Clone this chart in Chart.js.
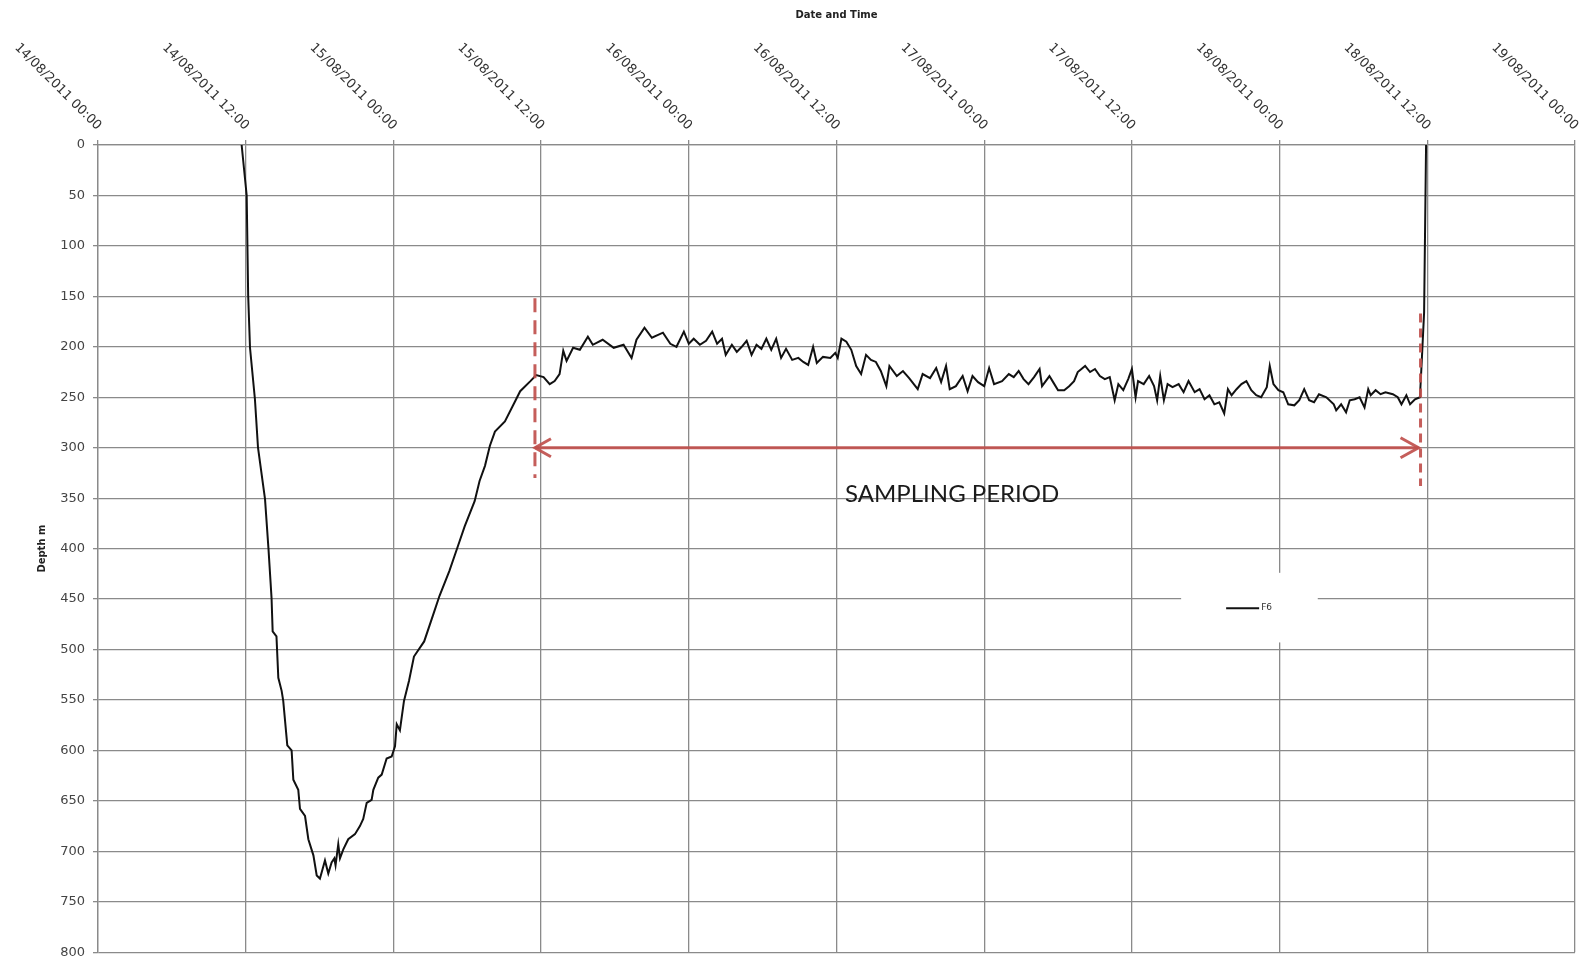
<!DOCTYPE html>
<html>
<head>
<meta charset="utf-8">
<title>Depth F6</title>
<script src="https://cdn.jsdelivr.net/npm/chart.js@4"></script>
<style>
  html, body { margin: 0; padding: 0; background: #fff; }
  #wrap { width: 1584px; height: 968px; position: relative; }
</style>
</head>
<body>
<div id="wrap"><canvas id="depth-chart"></canvas></div>
<script>
// hours since 14/08/2011 00:00
const xTickHours = [0, 12, 24, 36, 48, 60, 72, 84, 96, 108, 120];
const xTickLabels = [
    "14/08/2011 00:00", "14/08/2011 12:00", "15/08/2011 00:00", "15/08/2011 12:00",
    "16/08/2011 00:00", "16/08/2011 12:00", "17/08/2011 00:00", "17/08/2011 12:00",
    "18/08/2011 00:00", "18/08/2011 12:00", "19/08/2011 00:00"
];
const seriesName = "F6";

const hours = [
    11.67, 12.08, 12.2, 12.35, 12.75, 13.0, 13.57, 13.85, 14.1, 14.19, 14.5, 14.65, 14.92, 15.05,
    15.38, 15.73, 15.87, 16.27, 16.41, 16.82, 17.09, 17.5, 17.77, 18.03, 18.17, 18.44, 18.71, 18.98,
    19.2, 19.3, 19.52, 19.66, 19.93, 20.33, 20.88, 21.28, 21.55, 21.83, 22.23, 22.37, 22.77, 23.05,
    23.45, 23.86, 24.13, 24.27, 24.53, 24.86, 25.27, 25.67, 26.5, 27.33, 27.74, 28.55, 29.37, 29.79,
    30.6, 31.0, 31.44, 31.84, 32.25, 33.06, 33.89, 34.3, 35.13, 35.6, 36.2, 36.7, 37.1, 37.5,
    37.8, 38.07, 38.6, 39.15, 39.8, 40.2, 41.0, 41.9, 42.7, 43.35, 43.75, 44.4, 45.0, 45.9,
    46.5, 47.0, 47.6, 48.0, 48.4, 48.9, 49.4, 49.9, 50.3, 50.7, 51.0, 51.5, 51.9, 52.3,
    52.7, 53.1, 53.5, 53.9, 54.3, 54.7, 55.1, 55.5, 55.9, 56.4, 56.9, 57.3, 57.7, 58.1,
    58.4, 58.9, 59.5, 59.9, 60.1, 60.4, 60.8, 61.2, 61.6, 62.0, 62.4, 62.8, 63.2, 63.6,
    64.05, 64.3, 64.9, 65.4, 65.9, 66.6, 67.0, 67.6, 68.1, 68.5, 68.9, 69.2, 69.7, 70.25,
    70.65, 71.05, 71.5, 72.0, 72.4, 72.8, 73.45, 74.0, 74.4, 74.8, 75.2, 75.6, 76.05, 76.5,
    76.7, 77.3, 77.6, 78.0, 78.5, 78.9, 79.3, 79.6, 80.2, 80.6, 81.0, 81.4, 81.8, 82.2,
    82.6, 82.9, 83.3, 83.7, 84.0, 84.3, 84.5, 84.96, 85.4, 85.8, 86.05, 86.3, 86.6, 86.9,
    87.3, 87.8, 88.2, 88.6, 89.1, 89.5, 89.9, 90.3, 90.7, 91.1, 91.5, 91.8, 92.1, 92.5,
    92.9, 93.3, 93.7, 94.1, 94.5, 94.96, 95.2, 95.5, 95.9, 96.3, 96.7, 97.2, 97.6, 98.0,
    98.4, 98.8, 99.2, 99.8, 100.4, 100.6, 101.0, 101.4, 101.7, 102.1, 102.5, 102.9, 103.2, 103.4,
    103.8, 104.2, 104.6, 105.2, 105.6, 105.9, 106.3, 106.6, 107.0, 107.4, 107.55, 107.74, 107.9
];
const depthM = [
    0, 50, 149, 201, 252, 300, 351, 400, 449, 482, 487, 528, 541, 551,
    595, 600, 629, 639, 658, 665, 688, 704, 724, 727, 721, 709, 722, 711,
    707, 714, 693, 707, 698, 688, 683, 675, 668, 652, 649, 639, 627, 624,
    608, 606, 596, 574, 580, 551, 531, 507, 492, 462, 447, 422, 393, 378,
    353, 333, 318, 298, 284, 274, 254, 244, 234, 228, 230, 237, 234, 227,
    204, 214, 201, 203, 190, 198, 193, 201, 198, 211, 193, 181, 191, 186,
    197, 200, 185, 197, 192, 198, 194, 185, 197, 192, 208, 198, 205, 200,
    194, 208, 198, 202, 192, 203, 192, 211, 202, 213, 211, 215, 218, 200,
    216, 210, 211, 206, 211, 192, 195, 203, 219, 227, 208, 213, 215, 224,
    239, 219, 229, 224, 231, 242, 227, 231, 221, 235, 219, 242, 239, 229,
    244, 229, 235, 239, 221, 237, 234, 227, 230, 224, 232, 237, 230, 222,
    239, 229, 235, 243, 243, 239, 234, 225, 219, 225, 222, 229, 232, 230,
    253, 237, 243, 232, 222, 250, 234, 237, 229, 239, 253, 229, 253, 237,
    240, 237, 245, 234, 245, 242, 252, 248, 257, 255, 266, 242, 248, 242,
    237, 234, 243, 248, 250, 240, 219, 237, 243, 245, 257, 258, 253, 242,
    253, 255, 247, 250, 257, 263, 257, 265, 253, 252, 250, 260, 242, 248,
    243, 247, 245, 247, 250, 257, 248, 257, 252, 250, 214, 166, 0
];

// sampling period markers
const samplingStartHour = 35.5;
const samplingEndHour = 107.45;
const samplingDepth = 300;
const startMarkerDepths = [152, 330];
const endMarkerDepths = [167, 338];
const samplingLabel = "SAMPLING PERIOD";

const red = "rgba(192, 80, 77, 0.92)";

const topTickLabels = {
    id: "topTickLabels",
    afterDraw(chart) {
        const ctx = chart.ctx;
        const xs = chart.scales.x;
        ctx.save();
        ctx.font = '13px "DejaVu Sans"';
        ctx.fillStyle = "#333";
        ctx.textAlign = "right";
        ctx.textBaseline = "middle";
        xTickHours.forEach((h, i) => {
            const px = xs.getPixelForValue(h);
            ctx.save();
            ctx.translate(px + 1, xs.bottom - 17);
            ctx.rotate(Math.PI / 4);
            ctx.fillText(xTickLabels[i], 0, 0);
            ctx.restore();
        });
        ctx.restore();
    }
};

const samplingMarks = {
    id: "samplingMarks",
    afterDatasetsDraw(chart) {
        const ctx = chart.ctx;
        const xs = chart.scales.x, ys = chart.scales.y;
        const x1 = xs.getPixelForValue(samplingStartHour);
        const x2 = xs.getPixelForValue(samplingEndHour);
        const ya = ys.getPixelForValue(samplingDepth);
        ctx.save();
        ctx.strokeStyle = red;
        ctx.lineWidth = 3;
        // dashed verticals
        ctx.setLineDash([14, 8]);
        ctx.beginPath();
        ctx.moveTo(x1, ys.getPixelForValue(startMarkerDepths[0]));
        ctx.lineTo(x1, ys.getPixelForValue(startMarkerDepths[1]));
        ctx.stroke();
        ctx.setLineDash([9, 6]);
        ctx.beginPath();
        ctx.moveTo(x2, ys.getPixelForValue(endMarkerDepths[0]));
        ctx.lineTo(x2, ys.getPixelForValue(endMarkerDepths[1]));
        ctx.stroke();
        // double arrow
        ctx.setLineDash([]);
        ctx.beginPath();
        ctx.moveTo(x1, ya);
        ctx.lineTo(x2 - 2, ya);
        ctx.stroke();
        ctx.beginPath();
        ctx.moveTo(x1 + 16, ya - 9);
        ctx.lineTo(x1, ya);
        ctx.lineTo(x1 + 16, ya + 9);
        ctx.moveTo(x2 - 20, ya - 10);
        ctx.lineTo(x2 - 2, ya);
        ctx.lineTo(x2 - 20, ya + 10);
        ctx.stroke();
        // label
        ctx.font = '24px Lato';
        ctx.fillStyle = "#1a1a1a";
        ctx.textAlign = "left";
        ctx.textBaseline = "middle";
        ctx.fillText(samplingLabel, xs.getPixelForValue(60.7), ys.getPixelForValue(346));
        ctx.restore();
    }
};

const floatingLegend = {
    id: "floatingLegend",
    afterDatasetsDraw(chart) {
        const ctx = chart.ctx;
        const xs = chart.scales.x, ys = chart.scales.y;
        const left = xs.getPixelForValue(88.0);
        const right = xs.getPixelForValue(99.1);
        const top = ys.getPixelForValue(424);
        const bottom = ys.getPixelForValue(493);
        const midY = (top + bottom) / 2 + 0.5;
        ctx.save();
        ctx.fillStyle = "#fff";
        ctx.fillRect(left, top, right - left, bottom - top);
        ctx.strokeStyle = "#111";
        ctx.lineWidth = 2;
        ctx.beginPath();
        ctx.moveTo(left + 45, midY);
        ctx.lineTo(left + 78, midY);
        ctx.stroke();
        ctx.font = '9px "DejaVu Sans"';
        ctx.fillStyle = "#333";
        ctx.textAlign = "left";
        ctx.textBaseline = "middle";
        ctx.fillText(chart.data.datasets[0].label, left + 80, midY);
        ctx.restore();
    }
};

document.addEventListener("DOMContentLoaded", function () {
    const gridColor = "#8a8a8a";
    new Chart(document.getElementById("depth-chart").getContext("2d"), {
        type: "line",
        data: {
            datasets: [
                {
                    label: seriesName,
                    data: hours.map((h, i) => ({ x: h, y: depthM[i] })),
                    borderColor: "#111",
                    borderWidth: 2,
                    pointRadius: 0,
                    tension: 0,
                    fill: false
                }
            ]
        },
        options: {
            responsive: true,
            maintainAspectRatio: false,
            animation: false,
            layout: { padding: { left: 0, top: 0, right: 9, bottom: 7 } },
            plugins: {
                legend: { display: false },
                tooltip: { enabled: false }
            },
            scales: {
                x: {
                    type: "linear",
                    position: "top",
                    min: 0,
                    max: 120,
                    ticks: { display: false, stepSize: 12 },
                    grid: { color: gridColor, lineWidth: 1.3, tickLength: 5 },
                    border: { color: gridColor, width: 1.3 },
                    title: {
                        display: true,
                        text: "Date and Time",
                        color: "#222",
                        font: { family: "DejaVu Sans", size: 10, weight: "bold" },
                        padding: { top: 9, bottom: 0 }
                    },
                    afterFit: (s) => { s.height = 145; }
                },
                y: {
                    reverse: true,
                    min: 0,
                    max: 800,
                    ticks: {
                        stepSize: 50,
                        padding: 8,
                        color: "#444",
                        font: { family: "DejaVu Sans", size: 13 }
                    },
                    grid: { color: gridColor, lineWidth: 1.3, tickLength: 5 },
                    border: { color: gridColor, width: 1.3 },
                    title: {
                        display: true,
                        text: "Depth m",
                        color: "#222",
                        font: { family: "DejaVu Sans", size: 10, weight: "bold" },
                        padding: { top: 36, bottom: 0 }
                    },
                    afterFit: (s) => { s.width = 98; }
                }
            }
        },
        plugins: [topTickLabels, samplingMarks, floatingLegend]
    });
});
</script>
</body>
</html>
